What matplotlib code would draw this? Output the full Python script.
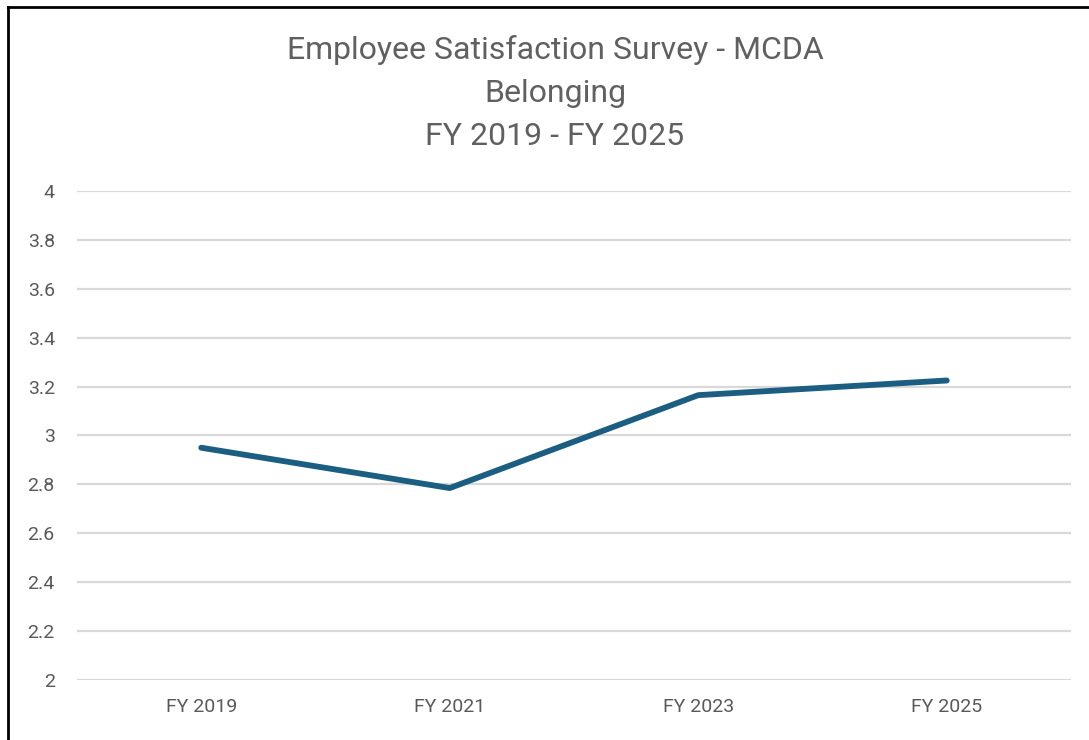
import matplotlib
matplotlib.use("Agg")
import matplotlib.pyplot as plt
from matplotlib.lines import Line2D

categories = ["FY 2019", "FY 2021", "FY 2023", "FY 2025"]
values = [2.95, 2.785, 3.165, 3.225]
yticks = [2, 2.2, 2.4, 2.6, 2.8, 3, 3.2, 3.4, 3.6, 3.8, 4]
ytick_labels = ["2", "2.2", "2.4", "2.6", "2.8", "3", "3.2", "3.4", "3.6", "3.8", "4"]
title = "Employee Satisfaction Survey - MCDA\nBelonging\nFY 2019 - FY 2025"

plt.rcParams['font.family'] = ['Roboto', 'DejaVu Sans']

W, H = 1089, 740
fig = plt.figure(figsize=(W / 100, H / 100), dpi=100)
ax = fig.add_axes([77 / W, 1 - 680 / H, (1071 - 77) / W, (680 - 191) / H])

x = list(range(len(categories)))
ax.plot(x, values, color="#1B5E82", lw=4.2, solid_capstyle="round", solid_joinstyle="round", zorder=3)

ax.set_xlim(-0.5, len(categories) - 0.5)
ax.set_ylim(2, 4)
ax.set_yticks(yticks)
ax.set_yticklabels(ytick_labels)
ax.set_xticks(x)
ax.set_xticklabels(categories)
ax.tick_params(axis="both", length=0, labelsize=14, labelcolor="#595959")
ax.tick_params(axis="y", pad=16)
ax.tick_params(axis="x", pad=13)
ax.grid(axis="y", color="#d9d9d9", lw=1.6)
ax.set_axisbelow(True)
for s in ax.spines.values():
    s.set_visible(False)

fig.text(555 / W, 1 - 93 / H, title, ha="center", va="center", fontsize=23,
         color="#606060", fontweight="normal", linespacing=1.63)

# outer frame (left and top edges visible)
fig.add_artist(Line2D([7.5 / W, 7.5 / W], [0, 1 - 6.5 / H], color="black", lw=2, transform=fig.transFigure))
fig.add_artist(Line2D([7.5 / W, 1], [1 - 6.5 / H, 1 - 6.5 / H], color="black", lw=2, transform=fig.transFigure))

fig.savefig("out.png", dpi=100, facecolor="white")
